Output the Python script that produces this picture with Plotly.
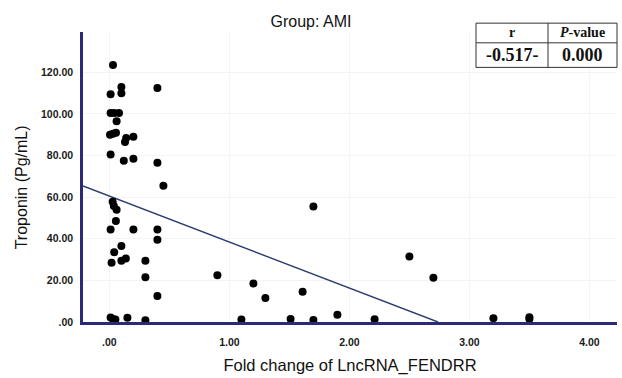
import plotly.graph_objects as go

# Data
fold_change = [0.03, 0.10, 0.10, 0.01, 0.40, 0.01, 0.04, 0.08, 0.06, 0.005, 0.03, 0.055,
               0.14, 0.20, 0.13, 0.01, 0.12, 0.20, 0.40, 0.45, 0.027, 0.037, 0.06, 0.054,
               0.01, 0.20, 0.40, 0.40, 0.10, 0.04, 0.018, 0.10, 0.137, 0.30, 0.30, 0.40,
               0.90, 1.20, 1.30, 1.61, 1.70, 2.50, 2.70, 0.01, 0.03, 0.05, 0.15, 0.30,
               1.10, 1.51, 1.70, 1.90, 2.21, 3.20, 3.50, 3.50]
troponin = [123.5, 113, 110, 109.5, 112.5, 100.5, 100.5, 100.5, 96.5, 90, 90.5, 91,
            88.5, 89, 86.5, 80.5, 77.5, 78.5, 76.5, 65.5, 57.8, 55.7, 53.9, 48.5,
            44.5, 44.5, 44.5, 39.5, 36.5, 33.5, 28.5, 29.5, 30.5, 29.5, 21.5, 12.5,
            22.5, 18.5, 11.5, 14.5, 55.5, 31.5, 21.3, 2.2, 1.5, 1.2, 2.0, 0.8,
            1.2, 1.5, 1.0, 3.5, 1.3, 1.8, 2.3, 1.5]

fit_intercept = 60.5
fit_slope = -22.1

x_tick_vals = [0, 1, 2, 3, 4]
x_tick_text = [".00", "1.00", "2.00", "3.00", "4.00"]
y_tick_vals = [0, 20, 40, 60, 80, 100, 120]
y_tick_text = [".00", "20.00", "40.00", "60.00", "80.00", "100.00", "120.00"]

table_header = ["r", "<i>P</i>-value"]
table_values = ["-0.517-", "0.000"]

x_range = [-0.22, 4.23]
y_range = [0, 139.4]

axis_color = "#2a2a78"
sans = "Liberation Sans, Arial, sans-serif"
serif = "Liberation Serif, Times New Roman, serif"

fig = go.Figure()

# regression line, from left axis to where it meets y = 0
x_end = -fit_intercept / fit_slope
line_x = [x_range[0], x_end]
line_y = [fit_intercept + fit_slope * v for v in line_x]
fig.add_trace(go.Scatter(x=line_x, y=line_y, mode="lines",
                         line=dict(color="#2c3a70", width=1.4),
                         hoverinfo="skip", showlegend=False))

fig.add_trace(go.Scatter(x=fold_change, y=troponin, mode="markers",
                         marker=dict(color="black", size=8),
                         cliponaxis=False, showlegend=False))

W, H = 622, 378
L, R, T, B = 83, 5, 32, 51
pw, ph = W - L - R, H - T - B
def px(xp):
    return (xp - L) / pw
def py(yp):
    return 1 - (yp - T) / ph

fig.update_layout(
    width=W, height=H,
    margin=dict(l=L, r=R, t=T, b=B),
    paper_bgcolor="white", plot_bgcolor="white",
    font=dict(family=sans, color="#111"),
    title=dict(text="Group: AMI", x=px(311), xref="paper", xanchor="center",
               y=1 - 21 / H, yanchor="middle",
               font=dict(size=16, color="#111")),
    xaxis=dict(range=x_range, tickvals=x_tick_vals, ticktext=x_tick_text,
               showgrid=True, gridcolor="#f4f4f4", gridwidth=1, zeroline=False,
               showline=True, linecolor=axis_color, linewidth=2.5,
               ticks="outside", ticklen=9, tickcolor="rgba(0,0,0,0)",
               tickfont=dict(size=10.5, color="#1a1a1a", family=sans, weight="bold"),
               title=dict(text="Fold change of LncRNA_FENDRR", standoff=13,
                          font=dict(size=16.5, color="#111"))),
    yaxis=dict(range=y_range, tickvals=y_tick_vals, ticktext=y_tick_text,
               showgrid=True, gridcolor="#f4f4f4", gridwidth=1, zeroline=False,
               showline=True, linecolor=axis_color, linewidth=2.5,
               ticks="outside", ticklen=5, tickcolor="rgba(0,0,0,0)",
               tickfont=dict(size=10.5, color="#1a1a1a", family=sans, weight="bold")),
)

# y-axis title placed as rotated text
fig.add_annotation(x=px(21), y=py(190), xref="paper", yref="paper",
                   text="Troponin (Pg/mL)", textangle=-90, showarrow=False,
                   xanchor="center", yanchor="middle",
                   font=dict(size=16, color="#111", family=sans))

# stats table in the top-right corner
tx0, tx1, tmid = 476, 617, 548
ty0, ty1, tymid = 23, 68, 43
fig.add_shape(type="rect", xref="paper", yref="paper",
              x0=px(tx0), x1=px(tx1), y0=py(ty1), y1=py(ty0),
              line=dict(color="#333", width=1), fillcolor="white", layer="above")
fig.add_shape(type="line", xref="paper", yref="paper",
              x0=px(tx0), x1=px(tx1), y0=py(tymid), y1=py(tymid),
              line=dict(color="#333", width=1))
fig.add_shape(type="line", xref="paper", yref="paper",
              x0=px(tmid), x1=px(tmid), y0=py(ty1), y1=py(ty0),
              line=dict(color="#333", width=1))
cells_x = [(tx0 + tmid) / 2, (tmid + tx1) / 2]
for i in range(2):
    fig.add_annotation(x=px(cells_x[i]), y=py((ty0 + tymid) / 2), xref="paper", yref="paper",
                       text="<b>" + table_header[i] + "</b>", showarrow=False,
                       xanchor="center", yanchor="middle",
                       font=dict(family=serif, size=14, color="#111"))
    fig.add_annotation(x=px(cells_x[i]), y=py((tymid + ty1) / 2), xref="paper", yref="paper",
                       text="<b>" + table_values[i] + "</b>", showarrow=False,
                       xanchor="center", yanchor="middle",
                       font=dict(family=serif, size=18, color="#111"))

fig.write_html("out.html")
